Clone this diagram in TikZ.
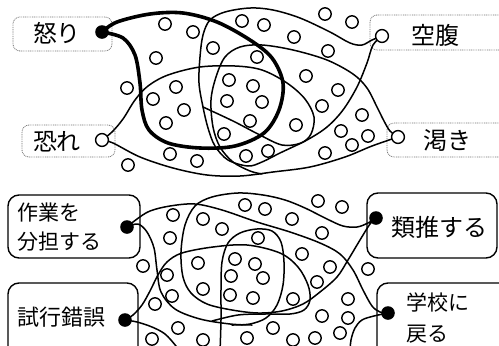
\documentclass[tikz,border=0pt]{standalone}
\usepackage{fontspec}
\newfontfamily\jpf{Noto Sans CJK JP}
\begin{document}
\begin{tikzpicture}[x=1pt,y=-1pt,
  dotbox/.style={draw=black!55, dash pattern=on 0.9pt off 0.9pt, line width=0.8pt, rounded corners=7pt, inner sep=0pt},
  solidbox/.style={draw=black, line width=1.4pt, rounded corners=11pt, inner sep=0pt},
  curve/.style={line width=1.5pt, line join=round, line cap=round},
  thickcurve/.style={line width=3.6pt, line join=round, line cap=round},
  bub/.style={draw=black, fill=white, line width=1.4pt},
  lbltop/.style={font=\jpf\fontsize{24}{28}\selectfont, inner sep=0pt},
  lblbot/.style={font=\jpf\fontsize{21}{29}\selectfont, inner sep=0pt, anchor=west, align=left},
]
\useasboundingbox (0,0) rectangle (499,346);
\fill[white] (0,0) rectangle (499,346);
\clip (0,0) rectangle (499,346);

% ---------- label boxes ----------
\node[dotbox, minimum width=99pt, minimum height=34pt] (b1) at (62.5,34) {};
\node[dotbox, minimum width=93pt, minimum height=32pt] (b2) at (68.5,141) {};
\node[dotbox, minimum width=140pt, minimum height=35pt] (b3) at (440,32.5) {};
\node[dotbox, minimum width=123pt, minimum height=34pt] (b4) at (448.5,140) {};
\node[solidbox, minimum width=132pt, minimum height=63pt] (b5) at (74,226.5) {};
\node[solidbox, minimum width=130pt, minimum height=77pt] (b6) at (73,321.5) {};
\node[solidbox, minimum width=130pt, minimum height=65pt] (b7) at (432,225.5) {};
\node[solidbox, minimum width=133pt, minimum height=77pt] (b8) at (443.5,321.5) {};

\node[lbltop] (t1) at (57,33) {怒り};
\node[lbltop] (t2) at (57,142) {恐れ};
\node[lbltop] (t3) at (435,35) {空腹};
\node[lbltop] (t4) at (447,140) {渇き};
\node[lblbot] (t5) at (17,227.5) {作業を\\分担する};
\node[lblbot, font=\jpf\fontsize{22}{26}\selectfont] (t6) at (17,317) {試行錯誤};
\node[lblbot, font=\jpf\fontsize{24}{28}\selectfont] (t7) at (391,227) {類推する};
\node[lblbot, font=\jpf\fontsize{21}{31}\selectfont] (t8) at (406,317.5) {学校に\\戻る};

% ---------- anchor points ----------
\coordinate (d1) at (102,32);
\coordinate (d2) at (102,140);
\coordinate (d3) at (382,36);
\coordinate (d4) at (398,137);
\coordinate (e1) at (127,227);
\coordinate (e2) at (125,320);
\coordinate (e3) at (376,218);
\coordinate (e4) at (388,313);

% ---------- top panel curves ----------
\draw[thickcurve] plot[smooth,tension=0.55] coordinates {(d1) (117,22) (150,14) (183,13) (217,22) (250,40) (272,58) (283,83) (279,110) (264,133) (235,146) (200,148) (168,143) (149,130) (142,110) (140,83) (135,55) (123,38) (d1)};
\draw[curve] plot[smooth,tension=0.55] coordinates {(d3) (372,40) (362,45) (350,43) (330,32) (300,18) (273,10) (250,8) (225,12) (210,20) (203,35) (200,57) (199,83) (203,107) (208,128) (215,146) (228,160) (248,166) (262,162) (280,153) (307,140) (327,127) (343,110) (357,87) (367,63) (373,45) (d3)};
\draw[curve] plot[smooth,tension=0.55] coordinates {(d4) (390,131) (384,121) (377,107) (367,88) (353,74) (327,60) (293,50) (262,45) (240,47) (225,57) (216,77) (211,100) (213,127) (220,147) (233,162) (250,171) (262,174)};
\draw[curve] plot[smooth,tension=0.55] coordinates {(d2) (112,132) (123,119) (135,100) (148,86) (168,75) (200,67) (235,66) (262,70) (287,83) (305,99) (314,117) (311,134) (301,143) (282,145) (258,134) (233,121) (203,107)};
\draw[curve] plot[smooth,tension=0.55] coordinates {(d2) (113,143) (140,157) (173,168) (207,175) (240,176) (273,172) (310,167) (345,157) (372,146) (d4)};

% ---------- bottom panel curves ----------
\draw[curve] plot[smooth,tension=0.55] coordinates {(e1) (137,219) (150,211) (170,206) (195,204) (222,210) (257,222) (290,232) (320,243) (340,254) (353,270) (363,290) (372,306) (380,312) (e4)};
\draw[curve] plot[smooth,tension=0.55] coordinates {(e1) (138,224) (147,232) (154,248) (157,270) (161,292) (175,309) (200,319) (230,324) (252,325)};
\draw[curve] plot[smooth,tension=0.55] coordinates {(e3) (368,223) (357,227) (343,226) (327,219) (305,208) (285,200) (263,195) (238,193) (212,197) (195,206) (185,225) (181,252) (183,277) (191,293) (207,304) (232,310) (258,313) (282,311) (303,304) (320,292) (337,277) (348,260) (360,240) (370,224) (e3)};
\draw[curve] plot[smooth,tension=0.55] coordinates {(220,352) (221,320) (221,290) (222,262) (228,243) (240,233) (257,229) (272,231) (281,242) (284,262) (283,285) (277,305) (266,318) (250,324) (232,325)};
\draw[curve] plot[smooth,tension=0.55] coordinates {(e2) (133,315) (142,305) (150,291) (158,275) (167,262) (182,253) (213,247) (247,245) (280,253) (298,267) (308,285) (310,300) (304,310) (290,314) (265,314) (238,315) (212,321)};
\draw[curve] plot[smooth,tension=0.55] coordinates {(e2) (137,322) (152,327) (165,334) (176,346) (180,352)};
\draw[curve] plot[smooth,tension=0.55] coordinates {(e4) (374,316) (362,320) (355,328) (351,340) (350,352)};

% ---------- small circles ----------
\foreach \p in {(165,24), (193,32), (242,21), (264,25), (325,14), (352,22), (294,37), (328,51), (213,48), (156,58), (257,57), (127,88), (176,87), (229,80), (253,86), (153,99), (184,110), (227,101), (262,102), (166,123), (250,121), (224,134), (306,76), (338,90), (322,106), (296,125), (362,115), (341,131), (368,136), (352,145), (325,153), (170,154), (197,161), (246,156), (268,151), (128,165),
 (173,215), (203,219), (222,229), (245,205), (265,209), (292,219), (318,201), (342,207), (322,233), (170,238), (258,238), (302,254), (330,267), (368,269), (143,266), (167,275), (198,263), (235,259), (255,264), (231,276), (263,278), (203,289), (230,295), (253,298), (172,296), (155,304), (293,299), (317,282), (348,299), (322,316), (348,318), (178,328), (152,339), (203,340), (247,338), (273,328), (293,340), (315,338), (340,333)}
  \draw[bub] \p circle[radius=6.2pt];

% ---------- label points ----------
\fill (d1) circle[radius=6.8pt];
\draw[bub] (d2) circle[radius=6.4pt];
\draw[bub] (d3) circle[radius=6.4pt];
\draw[bub] (d4) circle[radius=6.4pt];
\fill (e1) circle[radius=6.8pt];
\fill (e2) circle[radius=6.8pt];
\fill (e3) circle[radius=6.8pt];
\fill (e4) circle[radius=6.8pt];
\end{tikzpicture}
\end{document}
